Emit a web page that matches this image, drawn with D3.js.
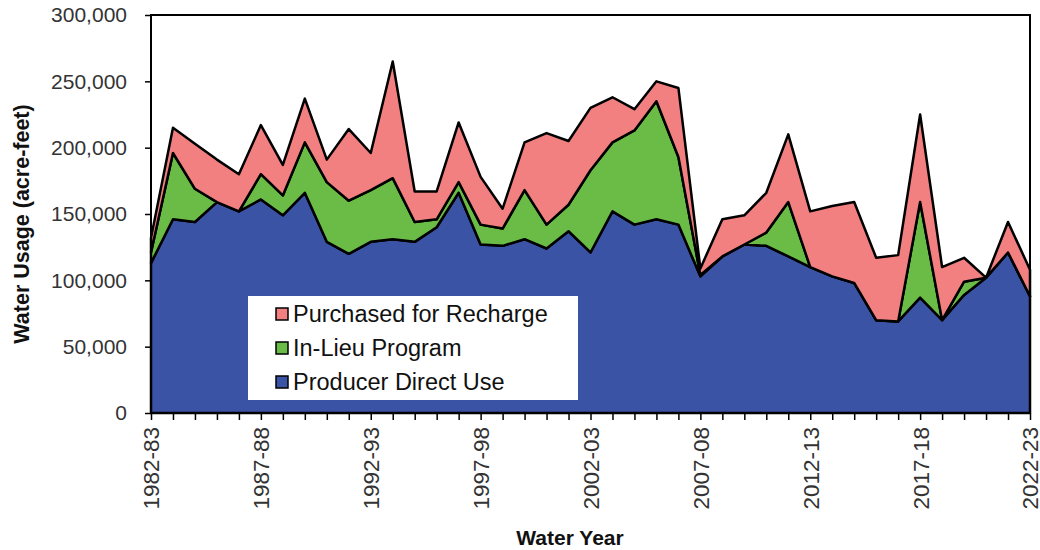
<!DOCTYPE html>
<html>
<head>
<meta charset="utf-8">
<script src="https://cdn.jsdelivr.net/npm/d3@7"></script>
<style>
  body { margin: 0; background: #fff; }
  text { font-family: "Liberation Sans", Arial, sans-serif; }
</style>
</head>
<body>
<svg id="chart" width="1040" height="550"></svg>
<script>
// water years 1982-83 .. 2022-23
var years = [];
for (var y = 1982; y <= 2022; y++) {
  years.push(y + "-" + String((y + 1) % 100).padStart(2, "0"));
}

// acre-feet
var directUse = [113000, 146000, 144000, 159000, 152000, 161000, 149000, 166000, 129000, 120000,
                 129000, 131000, 129000, 140000, 166000, 127000, 126000, 131000, 124000, 137000,
                 121000, 152000, 142000, 146000, 142000, 103000, 118000, 127000, 126000, 118000,
                 110000, 103000, 98000, 70000, 69000, 87000, 70000, 89000, 102000, 121000, 88000];
var inLieu    = [8000, 50000, 25000, 0, 0, 19000, 15000, 38000, 45000, 40000,
                 39000, 46000, 15000, 6000, 8000, 15000, 13000, 37000, 18000, 20000,
                 62000, 52000, 71000, 89000, 51000, 1000, 0, 0, 10000, 41000,
                 0, 0, 0, 0, 0, 72000, 0, 10000, 0, 0, 0];
var recharge  = [11000, 19000, 34000, 32000, 28000, 37000, 23000, 33000, 17000, 54000,
                 28000, 88000, 23000, 21000, 45000, 36000, 15000, 36000, 69000, 48000,
                 47000, 34000, 16000, 15000, 52000, 5000, 28000, 22000, 30000, 51000,
                 42000, 53000, 61000, 47000, 50000, 66000, 40000, 18000, 0, 23000, 20000];

var seriesNames = ["Producer Direct Use", "In-Lieu Program", "Purchased for Recharge"];
var seriesColors = ["#3A53A4", "#6BBB47", "#F28080"];
var yTicks = [0, 50000, 100000, 150000, 200000, 250000, 300000];

var rows = years.map(function (yr, i) {
  return { year: yr, i: i, d0: directUse[i], d1: inLieu[i], d2: recharge[i] };
});

var svg = d3.select("#chart");
var plotL = 151, plotR = 1030, plotT = 15, plotB = 413;

var x = d3.scaleLinear().domain([0, years.length - 1]).range([plotL, plotR]);
var yScale = d3.scaleLinear().domain([0, 300000]).range([plotB, plotT]);

var stack = d3.stack().keys(["d0", "d1", "d2"]);
var layers = stack(rows);

var area = d3.area()
  .x(function (d, i) { return x(i); })
  .y0(function (d) { return yScale(d[0]); })
  .y1(function (d) { return yScale(d[1]); });

svg.append("g").selectAll("path")
  .data(layers)
  .enter()
  .append("path")
  .attr("d", area)
  .attr("fill", function (d, i) { return seriesColors[i]; })
  .attr("stroke", "#000")
  .attr("stroke-width", 2.5)
  .attr("stroke-linejoin", "round");

// frame
svg.append("rect")
  .attr("x", plotL).attr("y", plotT)
  .attr("width", plotR - plotL).attr("height", plotB - plotT)
  .attr("fill", "none").attr("stroke", "#000").attr("stroke-width", 2);

// y axis
var yAxis = d3.axisLeft(yScale)
  .tickValues(yTicks)
  .tickSize(6)
  .tickPadding(18)
  .tickFormat(d3.format(","));
var gy = svg.append("g").attr("transform", "translate(" + plotL + ",0)").call(yAxis);
gy.select(".domain").remove();
gy.selectAll("line").attr("stroke", "#000").attr("stroke-width", 1.5);
gy.selectAll("text").attr("font-size", 21).attr("fill", "#333")
  .attr("font-family", "Liberation Sans, Arial, sans-serif");

// x axis
var xAxis = d3.axisBottom(x)
  .tickValues(d3.range(years.length))
  .tickSize(7)
  .tickFormat(function (i) { return i % 5 === 0 ? years[i] : ""; });
var gx = svg.append("g").attr("transform", "translate(0," + plotB + ")").call(xAxis);
gx.select(".domain").remove();
gx.selectAll("line").attr("stroke", "#000").attr("stroke-width", 1.5);
gx.selectAll("text")
  .attr("font-size", 22.5).attr("fill", "#333")
  .attr("font-family", "Liberation Sans, Arial, sans-serif")
  .attr("text-anchor", "end")
  .attr("transform", "rotate(-90)")
  .attr("x", -14).attr("y", 0).attr("dy", "0.35em");

// axis titles
svg.append("text")
  .attr("x", 570).attr("y", 545)
  .attr("text-anchor", "middle")
  .attr("font-size", 21).attr("font-weight", "bold").attr("fill", "#111")
  .text("Water Year");

svg.append("text")
  .attr("transform", "translate(29,224) rotate(-90)")
  .attr("text-anchor", "middle")
  .attr("font-size", 21.5).attr("font-weight", "bold").attr("fill", "#111")
  .text("Water Usage (acre-feet)");

// legend
var legend = svg.append("g");
legend.append("rect")
  .attr("x", 248).attr("y", 296).attr("width", 330).attr("height", 104)
  .attr("fill", "#fff");
var legendOrder = [2, 1, 0];
legendOrder.forEach(function (s, k) {
  var cy = 314 + k * 34;
  legend.append("rect")
    .attr("x", 276).attr("y", cy - 6).attr("width", 12).attr("height", 12)
    .attr("fill", seriesColors[s]).attr("stroke", "#000").attr("stroke-width", 1.5);
  legend.append("text")
    .attr("x", 293).attr("y", cy).attr("dy", "0.36em")
    .attr("font-size", 23.5).attr("fill", "#111")
    .text(seriesNames[s]);
});
</script>
</body>
</html>
